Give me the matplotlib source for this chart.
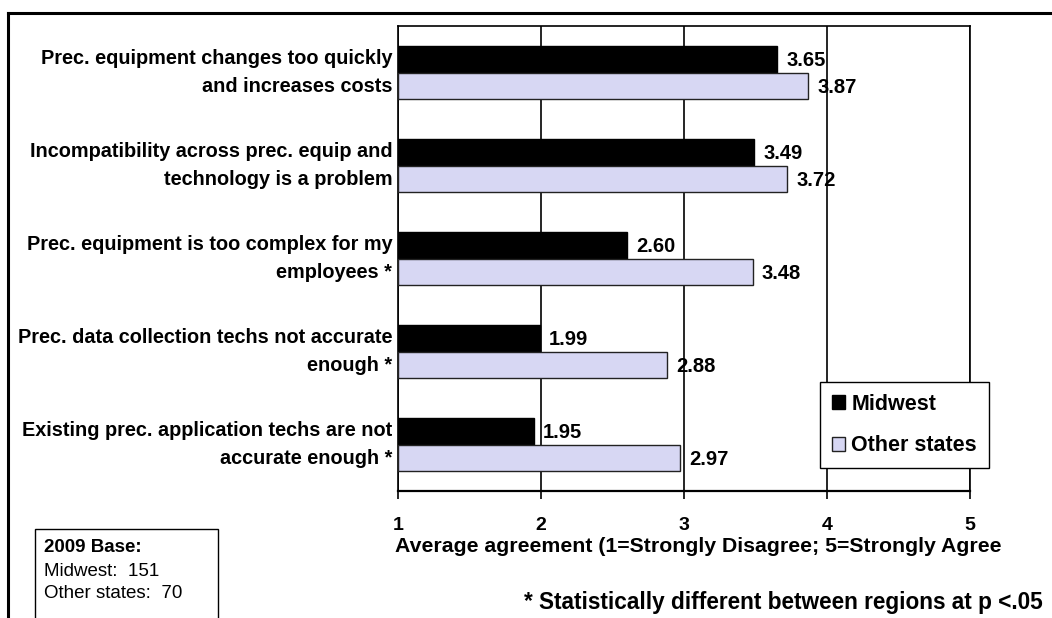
import matplotlib
matplotlib.use("Agg")
import matplotlib.pyplot as plt
import numpy as np
from matplotlib.patches import Patch

plt.rcParams['font.family'] = ['Liberation Sans', 'DejaVu Sans']

categories = [
    "Prec. equipment changes too quickly\nand increases costs",
    "Incompatibility across prec. equip and\ntechnology is a problem",
    "Prec. equipment is too complex for my\nemployees *",
    "Prec. data collection techs not accurate\nenough *",
    "Existing prec. application techs are not\naccurate enough *",
]
midwest = [3.65, 3.49, 2.60, 1.99, 1.95]
other_states = [3.87, 3.72, 3.48, 2.88, 2.97]
series_names = ["Midwest", "Other states"]
x_ticks = [1, 2, 3, 4, 5]
x_label = "Average agreement (1=Strongly Disagree; 5=Strongly Agree"
footnote = "* Statistically different between regions at p <.05"
base_lines = ["2009 Base:", "Midwest:  151", "Other states:  70"]

W, H = 1052, 618
fig = plt.figure(figsize=(W / 100, H / 100), dpi=100)

# outer frame (cropped on right and bottom)
fig.add_artist(plt.Line2D([8 / W, 1], [1 - 13 / H, 1 - 13 / H], color='black', lw=2.2))
fig.add_artist(plt.Line2D([8 / W, 8 / W], [0, 1 - 13 / H], color='black', lw=2.2))

ax = fig.add_axes([398 / W, 1 - 491 / H, (970 - 398) / W, (491 - 26) / H])

y = np.arange(len(categories))
h = 0.285
ax.barh(y - h / 2, [v - 1 for v in midwest], left=1, height=h, color='black',
        edgecolor='black', lw=1, zorder=3, label=series_names[0])
ax.barh(y + h / 2, [v - 1 for v in other_states], left=1, height=h, color='#D7D7F3',
        edgecolor='#222222', lw=1, zorder=3, label=series_names[1])

for i in range(len(categories)):
    ax.text(midwest[i] + 0.065, y[i] - h / 2 + 0.015, f"{midwest[i]:.2f}", va='center',
            ha='left', fontsize=14.5, fontweight='bold', zorder=5)
    ax.text(other_states[i] + 0.065, y[i] + h / 2 + 0.015, f"{other_states[i]:.2f}",
            va='center', ha='left', fontsize=14.5, fontweight='bold', zorder=5)

ax.set_xlim(1, 5)
ax.set_ylim(len(categories) - 0.5, -0.5)
ax.set_xticks(x_ticks)
ax.set_xticklabels([str(t) for t in x_ticks], fontsize=14, fontweight='bold')
ax.tick_params(axis='x', direction='out', length=6, width=1.2, pad=13)
ax.set_yticks([])
for i, c in enumerate(categories):
    ax.text(-0.01, 1 - (i + 0.5) / len(categories), c, transform=ax.transAxes,
            ha='right', va='center', fontsize=14.3, fontweight='bold', linespacing=1.58,
            multialignment='right')
ax.grid(axis='x', color='black', lw=1.2, zorder=0)
for s in ax.spines.values():
    s.set_linewidth(1.2)
ax.spines['bottom'].set_linewidth(1.6)

fig.text(395 / W, 1 - 546 / H, x_label, ha='left', va='center', fontsize=15.3,
         fontweight='bold')
fig.text(1043 / W, 1 - 602 / H, footnote, ha='right', va='center', fontsize=16.3,
         fontweight='bold')

# base box
fig.add_artist(plt.Rectangle((35 / W, -0.01), (218 - 35) / W, 0.01 + (618 - 529) / H,
                             transform=fig.transFigure, fill=False, edgecolor='black', lw=1))
fig.text(44 / W, 1 - 548 / H, base_lines[0], ha='left', va='center', fontsize=13.5,
         fontweight='bold')
fig.text(44 / W, 1 - 571 / H, base_lines[1], ha='left', va='center', fontsize=13.5)
fig.text(44 / W, 1 - 593 / H, base_lines[2], ha='left', va='center', fontsize=13.5)

handles = [Patch(facecolor='black', edgecolor='black'),
           Patch(facecolor='#D7D7F3', edgecolor='#222222')]
leg = fig.legend(handles, series_names, loc='upper left',
                 bbox_to_anchor=(820 / W, 1 - 382 / H), prop={'size': 15.5, 'weight': 'bold'},
                 frameon=True, fancybox=False, edgecolor='black', framealpha=1,
                 handlelength=0.6, handleheight=0.6, handletextpad=0.3,
                 labelspacing=0.95, borderpad=0.55, borderaxespad=0)
leg.get_frame().set_linewidth(1)

fig.savefig("out.png", dpi=100)
